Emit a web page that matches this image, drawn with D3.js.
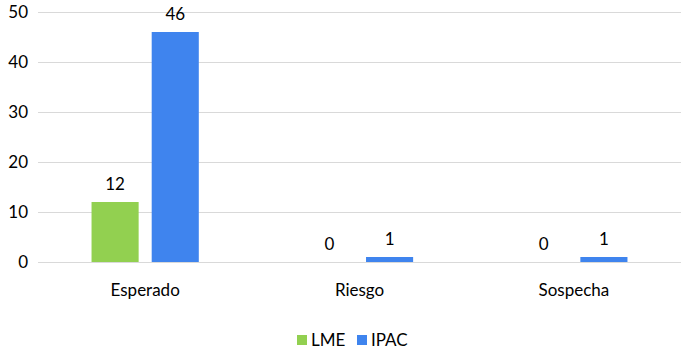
<!DOCTYPE html>
<html>
<head>
<meta charset="utf-8">
<script src="https://cdn.jsdelivr.net/npm/d3@7"></script>
<style>
  html, body { margin: 0; padding: 0; background: #fff; }
  svg { display: block; }
  text { font-family: Lato, "Open Sans", sans-serif; fill: #000; }
</style>
</head>
<body>
<div id="chart"></div>
<script>
const categories = ["Esperado", "Riesgo", "Sospecha"];
const seriesNames = ["LME", "IPAC"];
const lmeValues = [12, 0, 0];
const ipacValues = [46, 1, 1];
const yTicks = [0, 10, 20, 30, 40, 50];
const colors = ["#92D050", "#3F84EE"];

const W = 685, H = 351;
const margin = { left: 38, right: 4, top: 12, bottom: 89 };
const FONT = "Lato, 'Open Sans', sans-serif";

const svg = d3.select("#chart").append("svg").attr("width", W).attr("height", H);

const x = d3.scaleBand().domain(categories).range([margin.left, W - margin.right]).paddingInner(0).paddingOuter(0);
const y = d3.scaleLinear().domain([0, 50]).range([H - margin.bottom, margin.top]);

const inner = d3.scaleBand().domain(seriesNames).range([0, x.bandwidth()]).paddingInner(0.217).paddingOuter(0.89);

// gridlines
svg.append("g").selectAll("line").data(yTicks).join("line")
  .attr("x1", margin.left).attr("x2", W - margin.right)
  .attr("y1", d => y(d) + 0.5).attr("y2", d => y(d) + 0.5)
  .attr("stroke", "#d9d9d9").attr("stroke-width", 1);

// y axis labels
const yAxis = d3.axisLeft(y).tickValues(yTicks).tickSize(0).tickPadding(10);
const ga = svg.append("g").attr("transform", `translate(${margin.left},0)`).call(yAxis);
ga.select(".domain").remove();
ga.selectAll("text").style("font-family", FONT).style("font-size", "17px").attr("fill", "#000");

// x axis labels
const xAxis = d3.axisBottom(x).tickSize(0).tickPadding(22);
const gx = svg.append("g").attr("transform", `translate(0,${y(0)})`).call(xAxis);
gx.select(".domain").remove();
gx.selectAll("text").style("font-family", FONT).style("font-size", "17px").attr("fill", "#000");

const data = categories.map((c, i) => ({ cat: c, vals: [
  { s: seriesNames[0], v: lmeValues[i], c: colors[0] },
  { s: seriesNames[1], v: ipacValues[i], c: colors[1] }
]}));

const groups = svg.append("g").selectAll("g").data(data).join("g")
  .attr("transform", d => `translate(${x(d.cat)},0)`);

groups.selectAll("rect").data(d => d.vals).join("rect")
  .attr("x", d => inner(d.s))
  .attr("width", inner.bandwidth())
  .attr("y", d => y(d.v))
  .attr("height", d => y(0) - y(d.v))
  .attr("fill", d => d.c);

groups.selectAll("text.val").data(d => d.vals).join("text")
  .attr("class", "val")
  .attr("x", d => inner(d.s) + inner.bandwidth() / 2)
  .attr("y", d => y(d.v) - 12)
  .attr("text-anchor", "middle")
  .style("font-size", "17px")
  .text(d => d.v);

// legend
const legend = svg.append("g").attr("transform", "translate(297,340)");
const items = [{ n: seriesNames[0], c: colors[0], x: 0 }, { n: seriesNames[1], c: colors[1], x: 60 }];
items.forEach(it => {
  legend.append("rect").attr("x", it.x).attr("y", -5).attr("width", 10).attr("height", 10).attr("fill", it.c);
  legend.append("text").attr("x", it.x + 14).attr("y", 6).style("font-size", "17px").text(it.n);
});
</script>
</body>
</html>
